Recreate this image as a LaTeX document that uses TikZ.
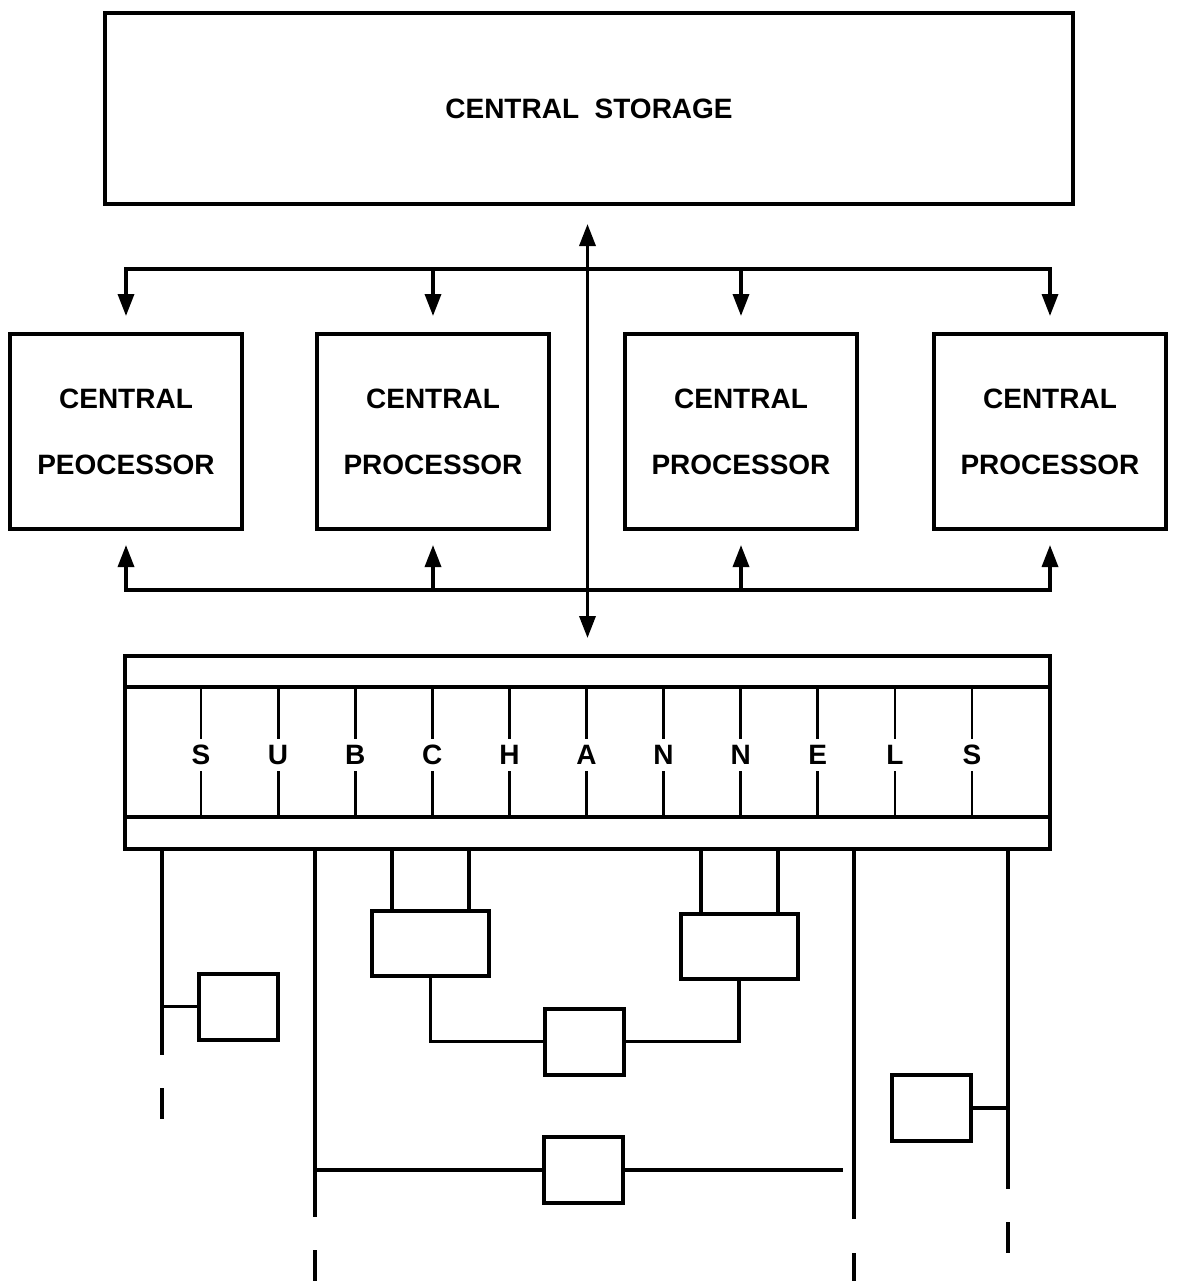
\documentclass[tikz,border=0pt]{standalone}
\usepackage{fontspec}
\setmainfont{Liberation Sans}
\usetikzlibrary{arrows.meta}
\begin{document}
\begin{tikzpicture}[x=0.5pt,y=-0.5pt,
  box/.style={draw,line width=2pt,rectangle,inner sep=0pt},
  conn/.style={line width=1.7pt},
  thin conn/.style={line width=1.4pt},
  tip/.style={-{Triangle[length=11pt,width=8pt]}},
  twotip/.style={{Triangle[length=11pt,width=8pt]}-{Triangle[length=11pt,width=8pt]}},
  cpbox/.style={box,minimum width=116pt,minimum height=97.5pt,align=center,
    font=\fontsize{14}{33}\selectfont\bfseries},
  letter/.style={inner sep=3pt,font=\fontsize{14}{16}\selectfont\bfseries},
  smallbox/.style={box,minimum width=39.5pt,minimum height=33pt},
  widebox/.style={box,minimum width=58.5pt,minimum height=32.5pt}]
\useasboundingbox (0,0) rectangle (1177,1282);

% central storage
\node[box,minimum width=484pt,minimum height=95.5pt,
  font=\fontsize{14}{16}\selectfont\bfseries] (cs) at (589,108.5) {CENTRAL\ \ STORAGE};

% central processors
\node[cpbox] (cp1) at (126,431.5) {CENTRAL\\PEOCESSOR};
\node[cpbox] (cp2) at (433,431.5) {CENTRAL\\PROCESSOR};
\node[cpbox] (cp3) at (741,431.5) {CENTRAL\\PROCESSOR};
\node[cpbox] (cp4) at (1050,431.5) {CENTRAL\\PROCESSOR};

% subchannels box
\node[box,minimum width=462.5pt,minimum height=96.5pt] (sc) at (587.5,752.5) {};
\coordinate (r1) at (0,687);
\coordinate (r2) at (0,817);
\draw[conn] (sc.west |- r1) -- (sc.east |- r1);
\draw[conn] (sc.west |- r2) -- (sc.east |- r2);
\foreach \l [count=\i] in {S,U,B,C,H,A,N,N,E,L,S}{
  \node[letter] (L\i) at ({201+77.1*(\i-1)},755) {\l};
  \draw[thin conn] (L\i.north) -- (L\i.north |- r1);
  \draw[thin conn] (L\i.south) -- (L\i.south |- r2);
}

% buses
\coordinate (tb) at (0,269);
\coordinate (bb) at (0,590);
\draw[conn,twotip] ([yshift=8pt]cp1.north) -- (cp1.north |- tb) -- (cp4.north |- tb) -- ([yshift=8pt]cp4.north);
\draw[conn,tip] (cp2.north |- tb) -- ([yshift=8pt]cp2.north);
\draw[conn,tip] (cp3.north |- tb) -- ([yshift=8pt]cp3.north);
\draw[conn,twotip] ([yshift=-7pt]cp1.south) -- (cp1.south |- bb) -- (cp4.south |- bb) -- ([yshift=-7pt]cp4.south);
\draw[conn,tip] (cp2.south |- bb) -- ([yshift=-7pt]cp2.south);
\draw[conn,tip] (cp3.south |- bb) -- ([yshift=-7pt]cp3.south);

% storage <-> subchannels
\draw[conn,twotip] ([yshift=-9pt]sc.north |- cs.south) -- ([yshift=8pt]sc.north);

% lower devices
\node[smallbox] (bA) at (238.5,1006.5) {};
\node[smallbox] (bB) at (583.5,1170) {};
\node[smallbox] (bM) at (584.5,1041.5) {};
\node[smallbox] (bD) at (931,1108) {};
\node[widebox] (bUL) at (430.5,943.5) {};
\node[widebox] (bUR) at (739,946.5) {};

% line A
\coordinate (xA) at (162,0);
\coordinate (eA) at (162,1055);
\coordinate (dA1) at (162,1088);
\coordinate (dA2) at (162,1119);
\draw[conn] (xA |- sc.south) -- (eA);
\draw[conn] (xA |- bA.west) -- (bA.west);
\draw[conn] (dA1) -- (dA2);

% line B
\coordinate (xB) at (315,0);
\coordinate (eB) at (315,1217);
\coordinate (dB1) at (315,1250);
\coordinate (dB2) at (315,1281);
\coordinate (fB) at (843,1170);
\draw[conn] (xB |- sc.south) -- (eB);
\draw[conn] (xB |- bB.west) -- (bB.west);
\draw[conn] (bB.east) -- (fB);
\draw[conn] (dB1) -- (dB2);

% upper boxes and middle box
\coordinate (s1) at (392,0);
\coordinate (s2) at (469,0);
\coordinate (s3) at (701,0);
\coordinate (s4) at (778,0);
\draw[conn] (s1 |- sc.south) -- (s1 |- bUL.north);
\draw[conn] (s2 |- sc.south) -- (s2 |- bUL.north);
\draw[conn] (s3 |- sc.south) -- (s3 |- bUR.north);
\draw[conn] (s4 |- sc.south) -- (s4 |- bUR.north);
\draw[conn] (bUL.south) -- (bUL.south |- bM.west) -- (bM.west);
\draw[conn] (bM.east) -- (bUR.south |- bM.east) -- (bUR.south);

% line C
\coordinate (xC) at (854,0);
\coordinate (eC) at (854,1219);
\coordinate (dC1) at (854,1253);
\coordinate (dC2) at (854,1281);
\draw[conn] (xC |- sc.south) -- (eC);
\draw[conn] (dC1) -- (dC2);

% line D
\coordinate (xD) at (1008,0);
\coordinate (eD) at (1008,1189);
\coordinate (dD1) at (1008,1222);
\coordinate (dD2) at (1008,1253);
\draw[conn] (xD |- sc.south) -- (eD);
\draw[conn] (bD.east) -- (xD |- bD.east);
\draw[conn] (dD1) -- (dD2);
\end{tikzpicture}
\end{document}
